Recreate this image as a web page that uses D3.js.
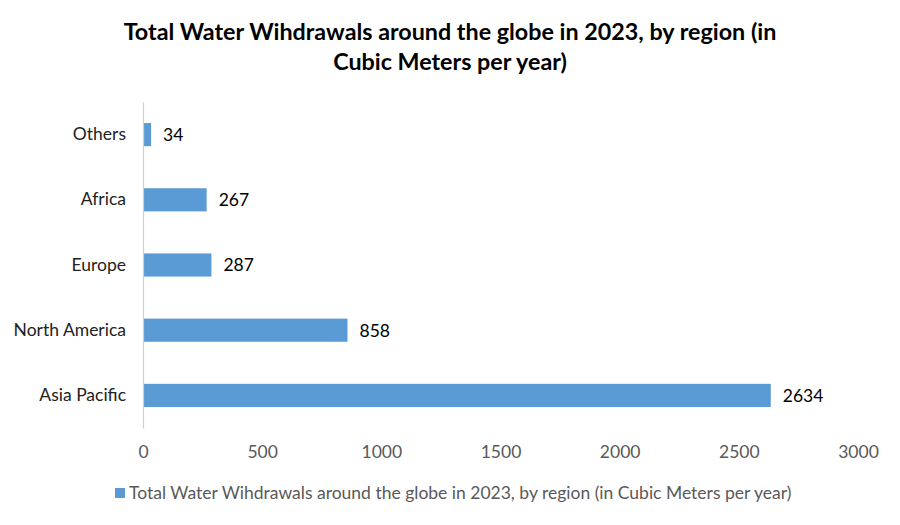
<!DOCTYPE html>
<html>
<head>
  <style>
    body { margin: 0; background: #fff; }
    text { font-family: Lato, "Open Sans", sans-serif; }
  </style>
  <title>Total Water Withdrawals</title>
</head>
<body>
  <script src="https://cdn.jsdelivr.net/npm/d3@7/dist/d3.min.js"></script>
  <script>
    // data
    var regions = ["Others", "Africa", "Europe", "North America", "Asia Pacific"];
    var withdrawals = [34, 267, 287, 858, 2634];
    var xTicks = [0, 500, 1000, 1500, 2000, 2500, 3000];
    var seriesName = "Total Water Wihdrawals around the globe in 2023, by region (in Cubic Meters per year)";
    var titleLines = ["Total Water Wihdrawals around the globe in 2023, by region (in", "Cubic Meters per year)"];

    var width = 900, height = 525;
    var margin = {top: 102, right: 42, bottom: 97, left: 143};
    var barColor = "#5B9BD5";

    var svg = d3.select("body").append("svg")
      .attr("width", width)
      .attr("height", height);

    var x = d3.scaleLinear().domain([0, 3000]).range([margin.left, width - margin.right]);
    var y = d3.scaleBand().domain(regions).range([margin.top, height - margin.bottom]).paddingInner(0.645).paddingOuter(0.3225);

    // title
    svg.append("g").selectAll("text")
      .data(titleLines)
      .enter().append("text")
      .attr("x", 450)
      .attr("y", function (d, i) { return 40 + i * 30; })
      .attr("text-anchor", "middle")
      .style("font-size", "23.3px")
      .style("font-weight", "bold")
      .style("fill", "#000")
      .text(function (d) { return d; });

    // bars
    svg.append("g").selectAll("rect")
      .data(regions)
      .enter().append("rect")
      .attr("x", x(0))
      .attr("y", function (d) { return y(d); })
      .attr("height", y.bandwidth())
      .attr("width", function (d, i) { return x(withdrawals[i]) - x(0); })
      .attr("fill", barColor);

    // value labels
    svg.append("g").selectAll("text")
      .data(regions)
      .enter().append("text")
      .attr("x", function (d, i) { return x(withdrawals[i]) + 12; })
      .attr("y", function (d) { return y(d) + y.bandwidth() / 2; })
      .attr("dy", "0.36em")
      .style("font-size", "17.5px")
      .style("fill", "#000")
      .text(function (d, i) { return withdrawals[i]; });

    // y axis
    var yAxis = svg.append("g")
      .attr("transform", "translate(" + margin.left + ",0)")
      .call(d3.axisLeft(y).tickSize(0).tickPadding(17));
    yAxis.select(".domain").attr("stroke", "#d0d0d0").attr("stroke-width", 1.2);
    yAxis.selectAll("text").style("font-size", "17.5px").style("fill", "#222");

    // x axis (labels only)
    var xAxis = svg.append("g")
      .attr("transform", "translate(0," + (height - margin.bottom) + ")")
      .call(d3.axisBottom(x).tickValues(xTicks).tickFormat(d3.format("d")).tickSize(0).tickPadding(18));
    xAxis.select(".domain").remove();
    xAxis.selectAll("text").style("font-size", "17.5px").style("fill", "#595959");

    // legend
    var legend = svg.append("g").attr("transform", "translate(115,488)");
    legend.append("rect").attr("width", 10).attr("height", 10).attr("fill", barColor);
    legend.append("text")
      .attr("x", 14)
      .attr("y", 5)
      .attr("dy", "0.36em")
      .style("font-size", "17.5px")
      .style("fill", "#595959")
      .text(seriesName);
  </script>
</body>
</html>
